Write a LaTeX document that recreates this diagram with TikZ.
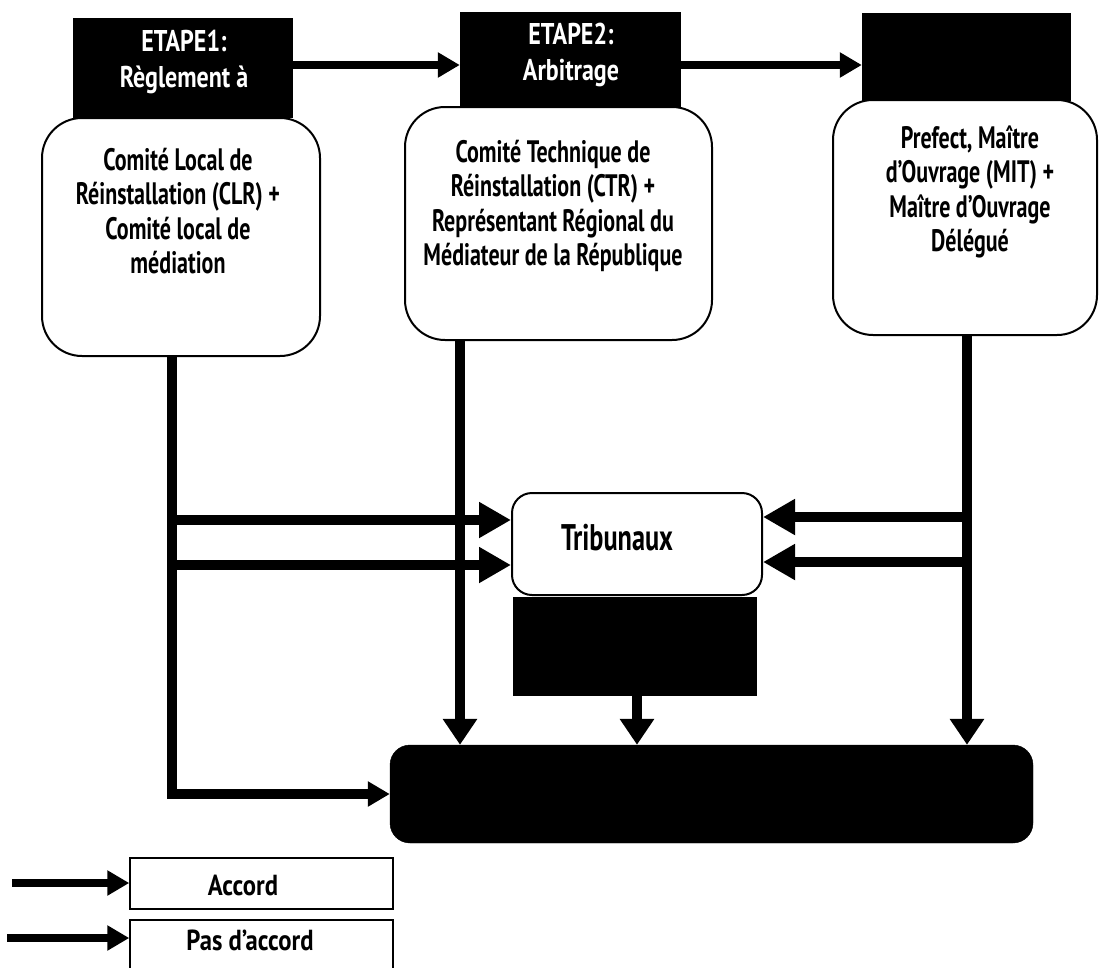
\documentclass[tikz,border=0pt]{standalone}
\usepackage{fontspec}
\newfontfamily\cond[FakeStretch=0.71]{PT Sans}
\newfontfamily\legfont[FakeStretch=0.85]{PT Sans}
\newfontfamily\headfont[FakeStretch=0.8]{PT Sans}
\usetikzlibrary{arrows.meta,calc}

\tikzset{
  etape/.style={draw=black, fill=black, text=white, inner sep=0pt},
  cbox/.style={draw=black, line width=2pt, rounded corners=40pt, fill=white, inner sep=0pt},
  tbox/.style={draw=black, line width=2pt, rounded corners=20pt, fill=white, inner sep=0pt},
  blk/.style={draw=black, fill=black, inner sep=0pt},
  lbox/.style={draw=black, line width=1.5pt, fill=white, inner sep=0pt},
  txt/.style={font=\cond\bfseries\fontsize{31}{34.5}\selectfont, align=center, text=black},
  legtxt/.style={font=\legfont\bfseries\fontsize{29}{32}\selectfont, text=black},
  wtxt/.style={font=\headfont\bfseries\fontsize{30}{36}\selectfont, align=center, text=white},
  bigarr/.style={line width=10pt, -{Triangle[length=32pt,width=34pt]}},
  midarr/.style={line width=10pt, -{Triangle[length=26pt,width=33pt]}},
  smallarr/.style={line width=8pt, -{Triangle[length=22pt,width=24pt]}},
}

\begin{document}
\begin{tikzpicture}[x=1pt,y=-1pt]
\useasboundingbox (0,0) rectangle (1100,967);

% stage headers
\node[etape, minimum width=219pt, minimum height=99pt] (etape1) at (182.5,67.5) {};
\node[etape, minimum width=220pt, minimum height=95pt] (etape2) at (570,59.5) {};
\node[etape, minimum width=208pt, minimum height=87pt] (etape3) at (966,56.5) {};
\node[wtxt] (e1title) at (184,62) {ETAPE1:\\Règlement à};
\node[wtxt] (e2title) at (571,55) {ETAPE2:\\Arbitrage};

% committees
\node[cbox, minimum width=278pt, minimum height=238pt] (clr) at (181,237) {};
\node[cbox, minimum width=307pt, minimum height=233pt] (ctr) at (558.5,223.5) {};
\node[cbox, minimum width=264pt, minimum height=235pt] (mod) at (965,217.5) {};
\node[txt] (clrtext) at (178,211) {Comité Local de\\Réinstallation (CLR) +\\Comité local de\\médiation};
\node[txt] (ctrtext) at (553,206) {Comité Technique de\\Réinstallation (CTR) +\\Représentant Régional du\\Médiateur de la République};
\node[txt] (modtext) at (970,192) {Prefect, Maître\\d’Ouvrage (MIT) +\\Maître d’Ouvrage\\Délégué};

% courts and outcome
\node[tbox, minimum width=250pt, minimum height=102pt] (trib) at (637,544) {};
\node[txt, font=\cond\bfseries\fontsize{37}{40}\selectfont] (tribtext) at (617,538) {Tribunaux};
\node[blk, minimum width=243pt, minimum height=98pt] (tribblk) at (634.5,646) {};
\node[blk, rounded corners=20pt, minimum width=643pt, minimum height=98pt] (final) at (711.5,794) {};

% legend
\node[lbox, minimum width=263pt, minimum height=51pt] (accord) at (261.5,883.5) {};
\node[lbox, minimum width=263pt, minimum height=56pt] (pasaccord) at (261.5,948) {};
\node[legtxt] (accordtext) at (243,885) {Accord};
\node[legtxt] (pastext) at (250,940) {Pas d’accord};
\coordinate (leg1) at (12,883);
\coordinate (leg2) at (7,938);
\draw[smallarr] (leg1) -- (leg1 -| accord.west);
\draw[smallarr] (leg2) -- (leg2 -| pasaccord.west);

% stage sequence
\coordinate (topline) at (0,65);
\draw[smallarr] (etape1.east |- topline) -- (etape2.west |- topline);
\draw[smallarr] (etape2.east |- topline) -- (etape3.west |- topline);

% local committee paths
\coordinate (clrdrop) at (172,356);
\coordinate (jl1) at (172,520);
\coordinate (jl2) at (172,565);
\draw[line width=10pt, -{Triangle[length=22pt,width=24pt]}] (clrdrop) |- (final.west);
\draw[bigarr] (jl1) -- (jl1 -| trib.west);
\draw[bigarr] (jl2) -- (jl2 -| trib.west);

% technical committee path
\coordinate (ctrdrop) at (460,340);
\draw[midarr] (ctrdrop) -- (ctrdrop |- final.north);

% project owner paths
\coordinate (moddrop) at (967,335);
\coordinate (jr1) at (967,517);
\coordinate (jr2) at (967,562);
\draw[midarr] (moddrop) -- (moddrop |- final.north);
\draw[bigarr] (jr1) -- (jr1 -| trib.east);
\draw[bigarr] (jr2) -- (jr2 -| trib.east);

% court decision path
\coordinate (tribdrop) at (637,695);
\draw[midarr] (tribdrop) -- (tribdrop |- final.north);
\end{tikzpicture}
\end{document}
